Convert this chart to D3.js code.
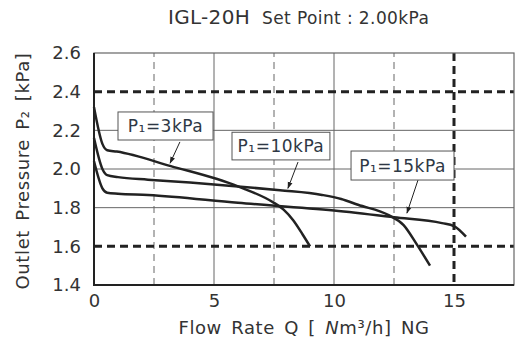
<!DOCTYPE html>
<html>
<head>
<meta charset="utf-8">
<script src="https://cdn.jsdelivr.net/npm/d3@7"></script>
<style>
body { margin: 0; background: #fff; }
text { font-family: "DejaVu Sans", sans-serif; fill: #333; }
</style>
</head>
<body>
<div id="chart-area"></div>
<script>
// curve data: [flow Q, outlet pressure P2]
const p1_3kPa = [[0, 2.32], [0.35, 2.13], [0.55, 2.097], [0.95, 2.09], [3.2, 2.015], [6, 1.91], [7.5, 1.825], [7.9, 1.79], [8.3, 1.735], [8.7, 1.66], [9.0, 1.60]];
const p1_10kPa = [[0, 2.16], [0.35, 2.0], [0.55, 1.968], [1, 1.958], [2.25, 1.945], [4, 1.93], [6, 1.91], [7.75, 1.89], [9.5, 1.866], [10.3, 1.845], [11, 1.815], [12.3, 1.76], [12.9, 1.71], [13.45, 1.61], [14, 1.50]];
const p1_15kPa = [[0, 2.04], [0.35, 1.9], [0.55, 1.877], [1, 1.872], [2.25, 1.866], [6, 1.825], [10, 1.785], [12.5, 1.75], [14.5, 1.72], [15, 1.705], [15.5, 1.65]];

const xTicks = [0, 5, 10, 15];
const yTicks = [1.4, 1.6, 1.8, 2.0, 2.2, 2.4, 2.6];
const gridX = [5, 10];
const dashGridX = [2.5, 7.5, 12.5];
const limitX = [15];
const gridY = [1.8, 2.0, 2.2];
const limitY = [1.6, 2.4];
const labels = ["3kPa", "10kPa", "15kPa"];

const width = 524, height = 350;
const margin = {top: 53, right: 10, bottom: 65, left: 94};

var svg = d3.select("#chart-area").append("svg")
	.attr("width", width)
	.attr("height", height);

var x = d3.scaleLinear().domain([0, 17.5]).range([margin.left, width - margin.right]);
var y = d3.scaleLinear().domain([1.4, 2.6]).range([height - margin.bottom, margin.top]);

// grid
svg.selectAll(".gx").data(gridX).enter().append("line")
	.attr("x1", d => x(d)).attr("x2", d => x(d))
	.attr("y1", y(1.4)).attr("y2", y(2.6))
	.attr("stroke", "#666").attr("stroke-width", 1);
svg.selectAll(".gy").data(gridY).enter().append("line")
	.attr("x1", x(0)).attr("x2", x(17.5))
	.attr("y1", d => y(d)).attr("y2", d => y(d))
	.attr("stroke", "#666").attr("stroke-width", 1);
svg.selectAll(".dx").data(dashGridX).enter().append("line")
	.attr("x1", d => x(d)).attr("x2", d => x(d))
	.attr("y1", y(1.4)).attr("y2", y(2.6))
	.attr("stroke", "#666").attr("stroke-width", 1)
	.attr("stroke-dasharray", "7,5");

// thick limit lines
svg.selectAll(".ly").data(limitY).enter().append("line")
	.attr("x1", x(0)).attr("x2", x(17.5))
	.attr("y1", d => y(d)).attr("y2", d => y(d))
	.attr("stroke", "#222").attr("stroke-width", 3)
	.attr("stroke-dasharray", "8,5");
svg.selectAll(".lx").data(limitX).enter().append("line")
	.attr("x1", d => x(d)).attr("x2", d => x(d))
	.attr("y1", y(2.6)).attr("y2", y(1.4))
	.attr("stroke", "#222").attr("stroke-width", 3)
	.attr("stroke-dasharray", "8,5");

// frame
svg.append("rect")
	.attr("x", x(0)).attr("y", y(2.6))
	.attr("width", x(17.5) - x(0)).attr("height", y(1.4) - y(2.6))
	.attr("fill", "none").attr("stroke", "#666").attr("stroke-width", 1.2);
svg.append("path")
	.attr("d", `M${x(0)},${y(2.6)}V${y(1.4)}H${x(17.5)}`)
	.attr("fill", "none").attr("stroke", "#222").attr("stroke-width", 2);

// axes
var yAxis = svg.append("g")
	.attr("transform", `translate(${margin.left},0)`)
	.call(d3.axisLeft(y).tickValues(yTicks).tickFormat(d3.format(".1f")).tickSize(0).tickPadding(13));
yAxis.select(".domain").remove();
yAxis.selectAll("text").style("font-size", "18px").attr("fill", "#333");

var xAxis = svg.append("g")
	.attr("transform", `translate(0,${height - margin.bottom})`)
	.call(d3.axisBottom(x).tickValues(xTicks).tickSize(0).tickPadding(9));
xAxis.select(".domain").remove();
xAxis.selectAll("text").style("font-size", "18px").attr("fill", "#333");

// curves
var line = d3.line()
	.x(d => x(d[0]))
	.y(d => y(d[1]))
	.curve(d3.curveMonotoneX);

[p1_3kPa, p1_10kPa, p1_15kPa].forEach(function(s) {
	svg.append("path")
		.datum(s)
		.attr("fill", "none")
		.attr("stroke", "#222")
		.attr("stroke-width", 2.5)
		.attr("stroke-linejoin", "round")
		.attr("d", line);
});

// labels with arrows
svg.append("defs").append("marker")
	.attr("id", "head")
	.attr("viewBox", "0 0 10 10")
	.attr("refX", 9).attr("refY", 5)
	.attr("markerWidth", 7).attr("markerHeight", 7)
	.attr("orient", "auto")
	.append("path").attr("d", "M0,1.5L10,5L0,8.5Z").attr("fill", "#222");

var boxes = [
	{q0: 1.0, q1: 4.96, p0: 2.295, p1: 2.15, from: [3.58, 2.14], to: [3.17, 2.03]},
	{q0: 5.75, q1: 9.83, p0: 2.19, p1: 2.047, from: [8.5, 2.036], to: [8.08, 1.90]},
	{q0: 10.71, q1: 15.0, p0: 2.093, p1: 1.943, from: [13.5, 1.943], to: [13.04, 1.772]}
];

boxes.forEach(function(b, i) {
	svg.append("line")
		.attr("x1", x(b.from[0])).attr("y1", y(b.from[1]))
		.attr("x2", x(b.to[0])).attr("y2", y(b.to[1]))
		.attr("stroke", "#222").attr("stroke-width", 1)
		.attr("marker-end", "url(#head)");
	svg.append("rect")
		.attr("x", x(b.q0)).attr("y", y(b.p0))
		.attr("width", x(b.q1) - x(b.q0)).attr("height", y(b.p1) - y(b.p0))
		.attr("fill", "#fff").attr("stroke", "#555").attr("stroke-width", 1);
	svg.append("text")
		.attr("x", (x(b.q0) + x(b.q1)) / 2)
		.attr("y", (y(b.p0) + y(b.p1)) / 2 + 6)
		.attr("text-anchor", "middle")
		.style("font-size", "17px")
		.style("letter-spacing", "0.5px")
		.style("fill", "#2e3845")
		.text("P₁=" + labels[i]);
});

// titles
var title = svg.append("text")
	.attr("x", 168).attr("y", 24);
title.append("tspan").style("font-size", "20px").style("letter-spacing", "0.3px").text("IGL-20H");
title.append("tspan").attr("dx", 12).style("font-size", "17px").style("letter-spacing", "0.4px").text("Set Point : 2.00kPa");

var xl = svg.append("text")
	.attr("x", (x(0) + x(17.5)) / 2 + 0).attr("y", 334)
	.attr("text-anchor", "middle")
	.style("font-size", "18px")
	.style("letter-spacing", "0.6px")
	.style("word-spacing", "3px");
xl.append("tspan").text("Flow Rate Q [ ");
xl.append("tspan").style("font-style", "italic").text("N");
xl.append("tspan").text("m³/h] NG");

svg.append("text")
	.attr("transform", `translate(29,${(y(1.4) + y(2.6)) / 2 + 2}) rotate(-90)`)
	.attr("text-anchor", "middle")
	.style("font-size", "18px")
	.style("letter-spacing", "0.6px")
	.style("word-spacing", "3px")
	.text("Outlet  Pressure P₂ [kPa]");
</script>
</body>
</html>
